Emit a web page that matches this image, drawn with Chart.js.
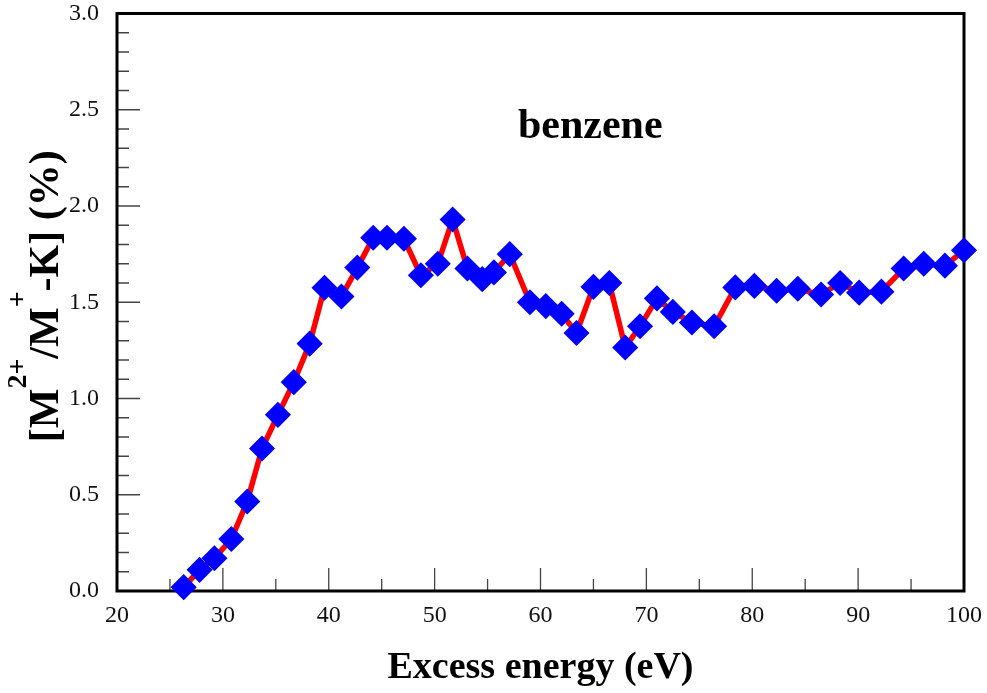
<!DOCTYPE html>
<html>
<head>
<meta charset="utf-8">
<script src="https://cdn.jsdelivr.net/npm/chart.js@4.4.0/dist/chart.umd.min.js"></script>
<style>
html,body{margin:0;padding:0;background:#fff;}
canvas{display:block;}
</style>
</head>
<body>
<canvas id="c" width="987" height="693"></canvas>
<script>
// ---- data ----
const energy = [26.3, 27.8, 29.2, 30.8, 32.3, 33.7, 35.2, 36.7, 38.2, 39.6,
                41.2, 42.7, 44.2, 45.5, 47.1, 48.7, 50.3, 51.7, 53.1, 54.5,
                55.6, 57.1, 59.0, 60.5, 62.0, 63.4, 65.0, 66.5, 68.0, 69.4,
                71.0, 72.5, 74.3, 76.4, 78.4, 80.2, 82.3, 84.3, 86.5, 88.3,
                90.1, 92.2, 94.3, 96.2, 98.2, 100.0];
const ratio = [0.02, 0.11, 0.17, 0.27, 0.465, 0.74, 0.915, 1.085, 1.285, 1.575,
               1.53, 1.68, 1.835, 1.835, 1.83, 1.64, 1.70, 1.93, 1.675, 1.62,
               1.655, 1.75, 1.50, 1.48, 1.44, 1.34, 1.58, 1.60, 1.265, 1.375,
               1.52, 1.45, 1.395, 1.375, 1.577, 1.585, 1.56, 1.57, 1.54, 1.60,
               1.55, 1.555, 1.675, 1.70, 1.69, 1.77];
const xTickLabels = [20, 30, 40, 50, 60, 70, 80, 90, 100];
const yTickLabels = ['0.0', '0.5', '1.0', '1.5', '2.0', '2.5', '3.0'];
const xTitle = 'Excess energy (eV)';
const yTitleParts = [['[M', 0], ['2+', 1], ['/M', 0], ['+', 1], ['-K] (%)', 0]];
const annotationText = 'benzene';
const annotationAt = [64.7, 2.355];

const SERIF = '"Liberation Serif", "Times New Roman", serif';

const framePlugin = {
  id: 'frame',
  beforeDatasetsDraw(chart) {
    const {ctx, chartArea: a, scales: {x, y}} = chart;
    ctx.save();
    // inside tick marks
    ctx.strokeStyle = '#444';
    ctx.lineWidth = 1.3;
    ctx.beginPath();
    for (let i = 0; i < xTickLabels.length; i++) {
      const px = x.getPixelForValue(xTickLabels[i]);
      ctx.moveTo(px, a.bottom); ctx.lineTo(px, a.bottom - 23);
      if (i < xTickLabels.length - 1) {
        const pm = x.getPixelForValue((xTickLabels[i] + xTickLabels[i + 1]) / 2);
        ctx.moveTo(pm, a.bottom); ctx.lineTo(pm, a.bottom - 12);
      }
    }
    const yv = yTickLabels.map(parseFloat);
    for (let i = 0; i < yv.length; i++) {
      const py = y.getPixelForValue(yv[i]);
      ctx.moveTo(a.left, py); ctx.lineTo(a.left + 23, py);
      if (i < yv.length - 1) {
        const step = (yv[i + 1] - yv[i]) / 5;
        for (let k = 1; k < 5; k++) {
          const pk = y.getPixelForValue(yv[i] + k * step);
          ctx.moveTo(a.left, pk); ctx.lineTo(a.left + 12, pk);
        }
      }
    }
    ctx.stroke();
    // frame box
    ctx.strokeStyle = '#000';
    ctx.lineWidth = 3;
    ctx.strokeRect(a.left, a.top, a.right - a.left, a.bottom - a.top);
    // annotation
    ctx.fillStyle = '#000';
    ctx.font = 'bold 42px ' + SERIF;
    ctx.textAlign = 'center';
    ctx.textBaseline = 'alphabetic';
    ctx.fillText(annotationText, x.getPixelForValue(annotationAt[0]), y.getPixelForValue(annotationAt[1]));
    // y axis title with superscripts
    const mainF = 'bold 42px ' + SERIF, supF = 'bold 28px ' + SERIF;
    ctx.translate(58, (a.top + a.bottom) / 2 - 6);
    ctx.rotate(-Math.PI / 2);
    ctx.textAlign = 'left';
    let total = 0;
    for (const [t, s] of yTitleParts) { ctx.font = s ? supF : mainF; total += ctx.measureText(t).width; }
    let cx = -total / 2;
    for (const [t, s] of yTitleParts) {
      ctx.font = s ? supF : mainF;
      ctx.fillText(t, cx, s ? -32 : 0);
      cx += ctx.measureText(t).width;
    }
    ctx.restore();
  }
};

new Chart(document.getElementById('c'), {
  type: 'line',
  data: {
    datasets: [{
      data: energy.map((e, i) => ({x: e, y: ratio[i]})),
      borderColor: '#FF0000',
      borderWidth: 5.5,
      pointStyle: 'rectRot',
      pointRadius: 12,
      pointBackgroundColor: '#0000FF',
      pointBorderColor: '#0000FF',
      pointBorderWidth: 1.5,
      tension: 0,
      clip: false
    }]
  },
  options: {
    responsive: false,
    animation: false,
    layout: {padding: {left: 0, right: 23, top: 12, bottom: 0}},
    plugins: {legend: {display: false}, tooltip: {enabled: false}},
    scales: {
      x: {
        type: 'linear', min: 20, max: 100,
        afterBuildTicks: s => { s.ticks = xTickLabels.map(v => ({value: v})); },
        ticks: {
          font: {family: SERIF, size: 24}, color: '#111', padding: 10,
          maxRotation: 0, autoSkip: false, callback: v => String(v)
        },
        grid: {display: false, drawTicks: false},
        border: {display: false},
        title: {
          display: true, text: xTitle, color: '#000',
          font: {family: SERIF, size: 38, weight: 'bold'},
          padding: {top: 0, bottom: 2}
        },
        afterFit: s => { s.height = 102; s.paddingLeft = 0; s.paddingRight = 0; }
      },
      y: {
        type: 'linear', min: 0, max: 3,
        afterBuildTicks: s => { s.ticks = yTickLabels.map(t => ({value: parseFloat(t)})); },
        ticks: {
          font: {family: SERIF, size: 24}, color: '#111', padding: 18,
          autoSkip: false, callback: v => v.toFixed(1)
        },
        grid: {display: false, drawTicks: false},
        border: {display: false},
        title: {display: false},
        afterFit: s => { s.width = 117; s.paddingTop = 0; s.paddingBottom = 0; }
      }
    }
  },
  plugins: [framePlugin]
});
</script>
</body>
</html>
